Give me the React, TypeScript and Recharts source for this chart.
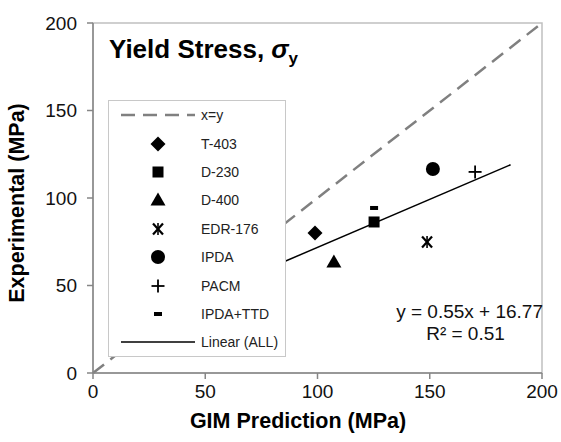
import React from 'react';
import {
  ScatterChart,
  Scatter,
  XAxis,
  YAxis,
  ReferenceLine,
  ReferenceArea,
  Legend
} from 'recharts';

// values
const seriesNames = ['T-403', 'D-230', 'D-400', 'EDR-176', 'IPDA', 'PACM', 'IPDA+TTD'];
const gimPrediction = [98.9, 125.2, 107.3, 148.8, 151.4, 170.2, 125.2];
const experimental = [80, 86.3, 63.4, 74.9, 116.6, 114.9, 94.3];
const markerKinds = ['diamond', 'square', 'triangle', 'star', 'circle', 'plus', 'minus'];

const axisTicks = [0, 50, 100, 150, 200];
const identityLine = [{ x: 0, y: 0 }, { x: 200, y: 200 }];
const trendLine = [{ x: 84, y: 63 }, { x: 186, y: 119 }];

const FONT = '"Liberation Sans", Arial, sans-serif';

function Marker({ kind, cx, cy }: { kind: string; cx: number; cy: number }) {
  switch (kind) {
    case 'diamond':
      return <path d={`M${cx},${cy - 7.5}L${cx + 7.5},${cy}L${cx},${cy + 7.5}L${cx - 7.5},${cy}Z`} fill="#000" />;
    case 'square':
      return <rect x={cx - 5.5} y={cy - 5.5} width={11} height={11} fill="#000" />;
    case 'triangle':
      return <path d={`M${cx},${cy - 7.5}L${cx + 7.5},${cy + 5.5}L${cx - 7.5},${cy + 5.5}Z`} fill="#000" />;
    case 'circle':
      return <circle cx={cx} cy={cy} r={7} fill="#000" />;
    case 'star':
      return (
        <g stroke="#000" strokeWidth={2.2}>
          <line x1={cx - 5} y1={cy - 5.5} x2={cx + 5} y2={cy + 5.5} />
          <line x1={cx + 5} y1={cy - 5.5} x2={cx - 5} y2={cy + 5.5} />
          <line x1={cx} y1={cy - 6} x2={cx} y2={cy + 6} strokeWidth={1.6} />
        </g>
      );
    case 'plus':
      return (
        <g stroke="#000" strokeWidth={1.8}>
          <line x1={cx - 6.5} y1={cy} x2={cx + 6.5} y2={cy} />
          <line x1={cx} y1={cy - 6.5} x2={cx} y2={cy + 6.5} />
        </g>
      );
    case 'minus':
      return <rect x={cx - 4} y={cy - 2} width={8} height={4} fill="#000" />;
    default:
      return null;
  }
}

const renderLegend = () => (
  <div
    style={{
      width: 178,
      height: 257,
      boxSizing: 'border-box',
      background: '#fff',
      border: '1.5px solid #c8c8c8',
      fontFamily: FONT,
      fontSize: 14,
      color: '#222'
    }}
  >
    {['x=y', ...seriesNames, 'Linear (ALL)'].map((name, i) => (
      <div key={name} style={{ display: 'flex', alignItems: 'center', height: 28.4 }}>
        <svg width={92} height={20} style={{ flex: 'none' }}>
          {i === 0 && (
            <line x1={12} y1={10} x2={86} y2={10} stroke="#808080" strokeWidth={2.5} strokeDasharray="14 8" />
          )}
          {i > 0 && i <= seriesNames.length && <Marker kind={markerKinds[i - 1]} cx={49} cy={10} />}
          {i === seriesNames.length + 1 && <line x1={12} y1={10} x2={86} y2={10} stroke="#000" strokeWidth={1.5} />}
        </svg>
        <span>{name}</span>
      </div>
    ))}
  </div>
);

export default function App() {
  return (
    <div style={{ position: 'absolute', left: 0, top: 0, width: 561, height: 442, background: '#fff' }}>
      <ScatterChart width={561} height={442} margin={{ top: 23, right: 19, bottom: 0, left: 0 }}>
        <XAxis
          type="number"
          dataKey="x"
          domain={[0, 200]}
          ticks={axisTicks}
          height={69}
          stroke="#868686"
          strokeWidth={1.5}
          tickSize={6}
          tickMargin={6}
          tick={{ fill: '#111', fontSize: 19, fontFamily: FONT }}
        />
        <YAxis
          type="number"
          dataKey="y"
          domain={[0, 200]}
          ticks={axisTicks}
          width={93}
          stroke="#868686"
          strokeWidth={1.5}
          tickSize={6}
          tickMargin={10}
          tick={{ fill: '#111', fontSize: 19, fontFamily: FONT }}
        />
        <ReferenceArea x1={0} x2={200} y1={0} y2={200} fill="none" stroke="#c0c0c0" strokeWidth={1.5} />
        <ReferenceLine segment={identityLine} stroke="#808080" strokeWidth={2.5} strokeDasharray="14 8" />
        <ReferenceLine segment={trendLine} stroke="#000" strokeWidth={1.5} />
        {seriesNames.map((name, i) => (
          <Scatter
            key={name}
            name={name}
            data={[{ x: gimPrediction[i], y: experimental[i] }]}
            isAnimationActive={false}
            shape={(p: any) => <Marker kind={markerKinds[i]} cx={p.cx} cy={p.cy} />}
          />
        ))}
        <Legend
          layout="vertical"
          align="center"
          verticalAlign="middle"
          content={renderLegend}
          wrapperStyle={{ left: 108, top: 100, width: 178 }}
        />
      </ScatterChart>
      <div
        style={{
          position: 'absolute',
          left: 109,
          top: 36,
          fontFamily: FONT,
          fontWeight: 'bold',
          fontSize: 26,
          lineHeight: '26px',
          whiteSpace: 'nowrap'
        }}
      >
        Yield Stress, <i>σ</i>
        <sub style={{ fontSize: 17, verticalAlign: -6 }}>y</sub>
      </div>
      <div
        style={{
          position: 'absolute',
          left: 380,
          top: 301,
          width: 163,
          textAlign: 'center',
          fontFamily: FONT,
          fontSize: 19,
          lineHeight: '22px',
          color: '#111'
        }}
      >
        <div style={{ textAlign: 'right' }}>y = 0.55x + 16.77</div>
        <div style={{ paddingLeft: 8 }}>R² = 0.51</div>
      </div>
      <div
        style={{
          position: 'absolute',
          left: 0,
          width: 596,
          top: 409,
          textAlign: 'center',
          fontFamily: FONT,
          fontWeight: 'bold',
          fontSize: 21.5
        }}
      >
        GIM Prediction (MPa)
      </div>
      <div
        style={{
          position: 'absolute',
          left: 17,
          top: 203,
          transform: 'translate(-50%, -50%) rotate(-90deg)',
          fontFamily: FONT,
          fontWeight: 'bold',
          fontSize: 21.5,
          whiteSpace: 'nowrap'
        }}
      >
        Experimental (MPa)
      </div>
    </div>
  );
}
